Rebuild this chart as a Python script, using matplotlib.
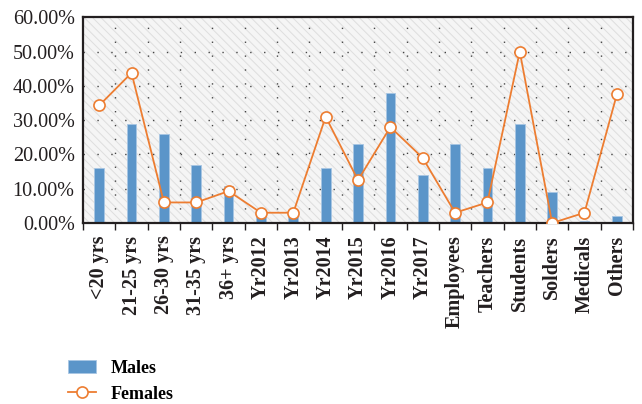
import matplotlib
matplotlib.use("Agg")
import matplotlib.pyplot as plt
from matplotlib.patches import Rectangle
from matplotlib.ticker import FuncFormatter, MultipleLocator, FixedLocator
import numpy as np

categories = ["<20 yrs", "21-25 yrs", "26-30 yrs", "31-35 yrs", "36+ yrs",
              "Yr2012", "Yr2013", "Yr2014", "Yr2015", "Yr2016", "Yr2017",
              "Employees", "Teachers", "Students", "Solders", "Medicals", "Others"]
males = [16.0, 29.0, 26.0, 17.0, 10.7, 3.0, 3.0, 16.0, 23.0, 38.0, 14.0,
         23.0, 16.0, 29.0, 9.0, 0.7, 2.0]
females = [34.3, 43.8, 6.0, 6.0, 9.3, 3.0, 3.0, 31.0, 12.5, 28.0, 19.0,
           3.0, 6.0, 50.0, 0.0, 3.0, 37.5]

serif = ["Liberation Serif", "DejaVu Serif"]
plt.rcParams['font.family'] = serif
plt.rcParams['hatch.color'] = '#dedede'
plt.rcParams['hatch.linewidth'] = 0.7

fig = plt.figure(figsize=(6.42, 4.04), dpi=100)
ax = fig.add_axes([0.1293, 0.448, 0.8567, 0.509])

x = np.arange(len(categories))
ax.set_xlim(-0.5, len(categories) - 0.5)
ax.set_ylim(0, 60)

ax.set_facecolor('#f5f5f5')
ax.add_patch(Rectangle((0, 0), 1, 1, transform=ax.transAxes, facecolor='none',
                       edgecolor='#dedede', hatch='\\\\\\\\', linewidth=0, zorder=0))

# grid
for yv in range(10, 60, 10):
    ax.axhline(yv, color='#444444', linestyle=(0, (1, 9)), linewidth=1.0, zorder=1)
for xv in np.arange(0.5, len(categories) - 1, 1):
    ax.axvline(xv, color='#444444', linestyle=(0, (1, 9)), linewidth=1.0, zorder=1)

bars = ax.bar(x, males, width=0.3, color='#5b95c9', edgecolor='#a8c6e3', linewidth=0.6,
              zorder=2)
line, = ax.plot(x, females, color='#ed7d31', linewidth=1.3, marker='o', markersize=8,
                markerfacecolor='white', markeredgecolor='#ed7d31', markeredgewidth=1.2,
                zorder=3)

ax.yaxis.set_major_locator(MultipleLocator(10))
ax.yaxis.set_major_formatter(FuncFormatter(lambda v, p: f"{v:.2f}%"))
ax.tick_params(axis='y', length=0, labelsize=14.5, pad=6, colors='#231f20')

ax.set_xticks(x)
ax.set_xticklabels(categories, rotation=90, fontsize=14.5, fontweight='bold', color='#231f20')
ax.tick_params(axis='x', length=0, pad=9)
ax.xaxis.set_minor_locator(FixedLocator(np.arange(-0.5, len(categories), 1)))
ax.tick_params(axis='x', which='minor', length=5, width=1, color='#231f20')

for s in ax.spines.values():
    s.set_linewidth(1.6)
    s.set_color('#231f20')

leg = fig.legend(handles=[bars, line], labels=['Males', 'Females'], loc='upper left',
                 bbox_to_anchor=(0.08, 0.15), frameon=False,
                 prop={'family': serif, 'weight': 'bold', 'size': 13},
                 handlelength=1.6, handletextpad=0.8, labelspacing=0.5)

fig.savefig("out.png", dpi=100)
